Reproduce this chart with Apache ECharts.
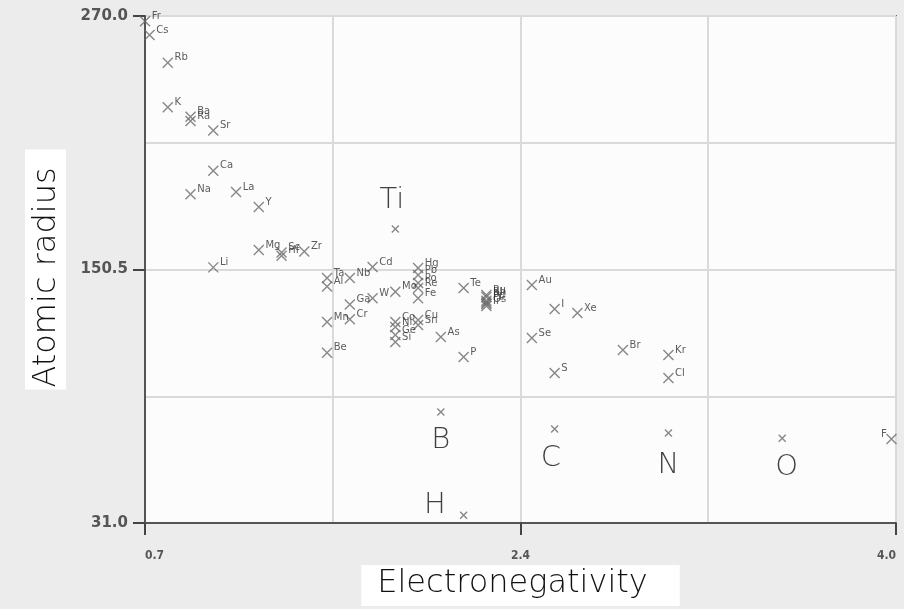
<!DOCTYPE html>
<html>
<head>
<meta charset="utf-8">
<title>Electronegativity vs atomic radius</title>
<script src="https://cdn.jsdelivr.net/npm/echarts@6/dist/echarts.min.js"></script>
<style>
html,body{margin:0;padding:0;background:#ececec;}
#chart{width:904px;height:609px;}
</style>
</head>
<body>
<div id="chart"></div>
<script>
// element symbols, electronegativity, atomic radius
var elements = ['Fr','Cs','Rb','K','Ba','Ra','Sr','Ca','Na','La','Y','Mg','Sc','Hf','Zr','Li',
	'Ti','Cd','Ta','Al','Nb','Ga','W','Mn','Cr','Be','Mo','Hg','Pb','Po','Re','Fe','Cu','Sn',
	'Co','Ni','Ge','Si','As','B','Te','P','H','Ru','Rh','Pd','Pt','Os','Ir','Au','Se','I','S',
	'C','Xe','Br','Kr','Cl','N','O','F'];
var electroneg = [0.7,0.72,0.8,0.8,0.9,0.9,1.0,1.0,0.9,1.1,1.2,1.2,1.3,1.3,1.4,1.0,
	1.8,1.7,1.5,1.5,1.6,1.6,1.7,1.5,1.6,1.5,1.8,1.9,1.9,1.9,1.9,1.9,1.9,1.9,
	1.8,1.8,1.8,1.8,2.0,2.0,2.1,2.1,2.1,2.2,2.2,2.2,2.2,2.2,2.2,2.4,2.4,2.5,2.5,
	2.5,2.6,2.8,3.0,3.0,3.0,3.5,3.98];
var radius = [267.5,261,248,227,222.5,220.5,216,197,186,187,180,159.7,158.5,157,159,151.5,
	169.6,151.7,146.5,142.5,146.5,134,137,125.7,127,111.2,140,151.2,147.9,144.1,141.8,137,126.7,124.3,
	125.7,123.4,119.6,116.3,118.7,83.3,141.8,109.2,34.7,138.5,137.5,135.8,135,134.2,133.3,143.2,118.2,131.9,101.7,
	75.3,130,112.5,110.2,99.3,73.4,71,70.6];

// big hand-written annotations
var noteText = ['Ti','B','C','N','O','H'];
var noteX = [1.785,2.0,2.484,3.0,3.52,1.974];
var noteY = [183.2,70.1,61.6,58.3,57.4,39.4];

// axis ticks
var xTicks = [0.7,2.35,4.0];
var xTickText = ['0.7','2.4','4.0'];
var yTicks = [31.0,150.5,270.0];
var yTickText = ['31.0','150.5','270.0'];

function tickText(ticks, texts, v){
	for (var i = 0; i < ticks.length; i++) {
		if (Math.abs(ticks[i] - v) < 1e-6 * (1 + Math.abs(v))) return texts[i];
	}
	return '';
}

var chart = echarts.init(document.getElementById('chart'));

var points = [];
for (var i = 0; i < elements.length; i++) {
	var p = {name: elements[i], value: [electroneg[i], radius[i]]};
	if (noteText.indexOf(elements[i]) >= 0) {
		p.label = {show: false};
		p.symbolSize = 7;
	} else if (elements[i] === 'F') {
		p.label = {position: 'left', offset: [2, -5]};
	}
	points.push(p);
}
var notes = [];
for (var j = 0; j < noteText.length; j++) {
	notes.push({name: noteText[j], value: [noteX[j], noteY[j]]});
}

var option = {
	backgroundColor: '#ececec',
	animation: false,
	grid: {
		left: 145, right: 8, top: 16, bottom: 86,
		outerBoundsMode: 'none',
		containLabel: false,
		show: true,
		backgroundColor: '#fcfcfc',
		borderColor: '#666',
		borderWidth: 2
	},
	xAxis: [
		{
			type: 'value', min: 0.7, max: 4.0, interval: 0.825,
			axisLine: {show: true, lineStyle: {color: '#555', width: 2}},
			axisTick: {show: false},
			axisLabel: {show: false},
			splitLine: {show: true, lineStyle: {color: '#dadada', width: 2}},
			name: 'Electronegativity',
			nameLocation: 'middle',
			nameGap: 42,
			nameTextStyle: {
				fontFamily: 'DejaVu Sans', fontWeight: 200, fontSize: 32, color: '#111',
				backgroundColor: '#fff', padding: [3, 32, 6, 16]
			}
		},
		{
			type: 'value', min: 0.7, max: 4.0, interval: 1.65, position: 'bottom',
			axisLine: {show: false},
			axisTick: {show: true, inside: false, length: 12, lineStyle: {color: '#444', width: 2}},
			axisLabel: {
				show: true, margin: 27, fontSize: 12, fontWeight: 'bold', color: '#555',
				fontFamily: 'DejaVu Sans Condensed',
				alignMinLabel: 'left', alignMaxLabel: 'right',
				formatter: function(v){ return tickText(xTicks, xTickText, v); }
			},
			splitLine: {show: false}
		}
	],
	yAxis: [
		{
			type: 'value', min: 31, max: 270, interval: 59.75,
			axisLine: {show: true, lineStyle: {color: '#555', width: 2}},
			axisTick: {show: false},
			axisLabel: {show: false},
			splitLine: {show: true, lineStyle: {color: '#dadada', width: 2}},
			name: 'Atomic radius',
			nameLocation: 'middle',
			nameGap: 79,
			nameTextStyle: {
				fontFamily: 'DejaVu Sans', fontWeight: 200, fontSize: 32, color: '#111',
				backgroundColor: '#fff', padding: [6, 18, 3, 2]
			}
		},
		{
			type: 'value', min: 31, max: 270, interval: 119.5, position: 'left',
			axisLine: {show: false},
			axisTick: {show: true, inside: false, length: 12, lineStyle: {color: '#444', width: 2}},
			axisLabel: {
				show: true, margin: 17, fontSize: 15, fontWeight: 'bold', color: '#555',
				fontFamily: 'DejaVu Sans',
				formatter: function(v){ return tickText(yTicks, yTickText, v); }
			},
			splitLine: {show: false}
		}
	],
	series: [
		{
			type: 'scatter',
			xAxisIndex: 0, yAxisIndex: 0,
			symbol: 'path://M0,0L10,10M10,0L0,10',
			symbolSize: 10,
			itemStyle: {color: 'rgba(0,0,0,0)', borderColor: '#6a6a6a', borderWidth: 1.4},
			label: {
				show: true, position: 'right', distance: 1, offset: [0, -5],
				formatter: '{b}', fontSize: 10, color: '#333', fontFamily: 'DejaVu Sans'
			},
			data: points
		},
		{
			type: 'scatter',
			xAxisIndex: 0, yAxisIndex: 0,
			symbolSize: 0,
			silent: true,
			label: {
				show: true, position: 'inside', formatter: '{b}',
				fontFamily: 'DejaVu Sans', fontWeight: 200, fontSize: 29, color: '#111'
			},
			data: notes
		}
	]
};
chart.setOption(option);
</script>
</body>
</html>
